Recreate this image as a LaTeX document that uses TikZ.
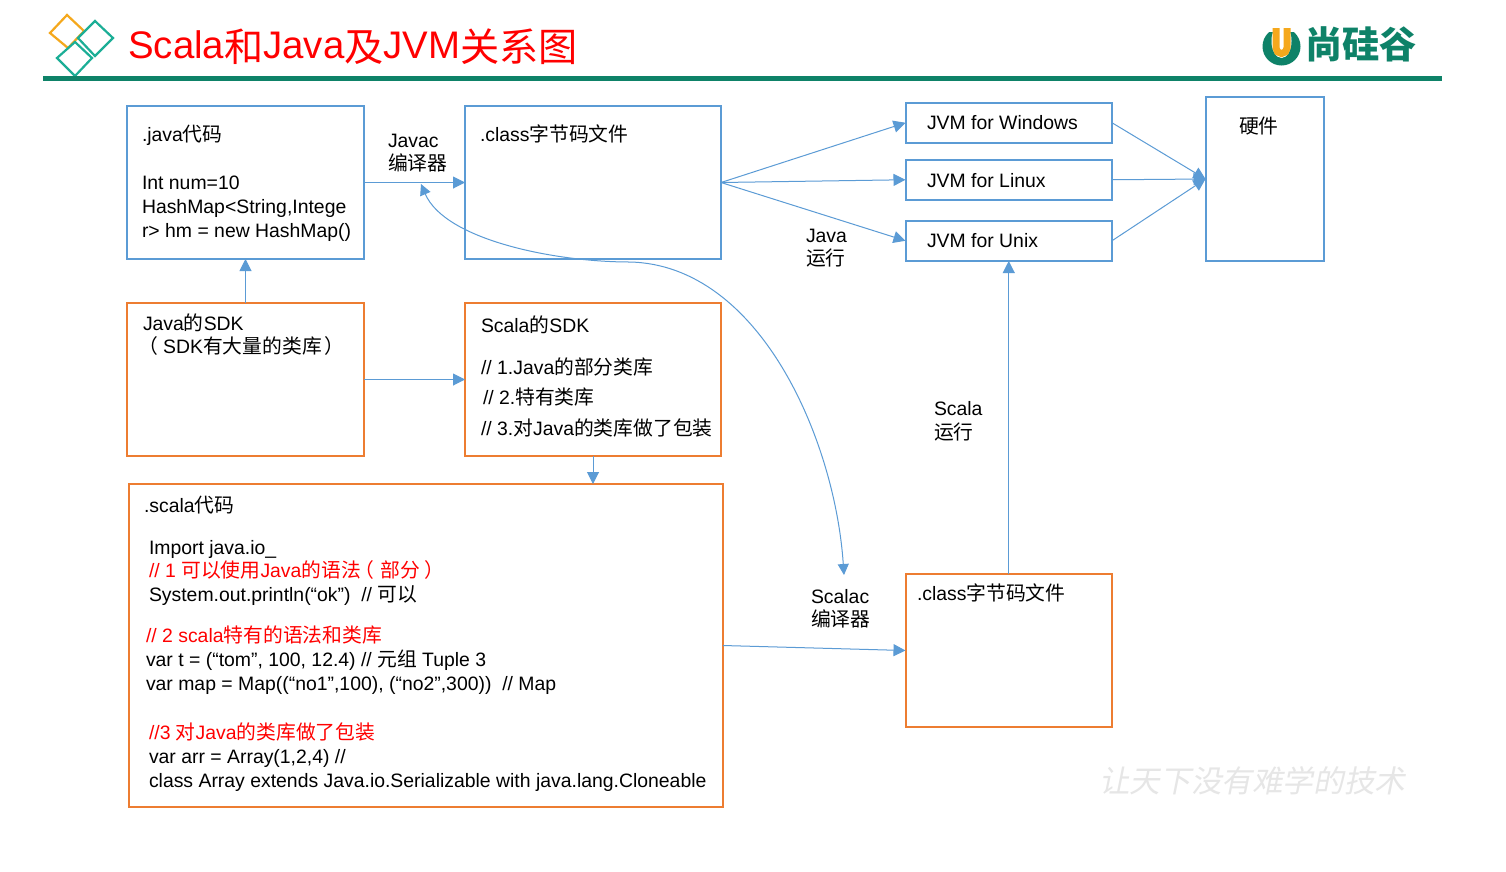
\documentclass[tikz,border=0pt]{standalone}
\usepackage{fontspec}
\setmainfont{Liberation Sans}
\newfontfamily\cjk[Scale=1.02]{Noto Sans CJK SC}
\newcommand\zh[1]{{\cjk#1}}
\newcommand\tzh[1]{\raisebox{-3pt}{\cjk#1}}
\usetikzlibrary{arrows.meta}
\definecolor{bluel}{HTML}{5B9BD5}
\definecolor{orangel}{HTML}{ED7D31}
\definecolor{rulegreen}{HTML}{0E8268}
\definecolor{teald}{HTML}{1BAE96}
\definecolor{amber}{HTML}{F5A81C}
\definecolor{wm}{HTML}{E6E6E6}
\tikzset{
  x=1pt,y=-1pt,
  bluebox/.style={draw=bluel,line width=2pt,fill=none,inner sep=0pt,outer sep=0pt},
  orangebox/.style={draw=orangel,line width=2pt,fill=none,inner sep=0pt,outer sep=0pt},
  txt/.style={anchor=base west,inner sep=0pt,outer sep=0pt,font=\fontsize{19.4pt}{23pt}\selectfont,text=black},
  redtxt/.style={txt,text=red},
  conn/.style={draw=bluel,line width=1pt,-{Triangle[length=12pt,width=12pt,fill=bluel]}},
  conn2/.style={draw=bluel,line width=1pt,{Triangle[length=11pt,width=11pt,fill=bluel]}-{Triangle[length=11pt,width=11pt,fill=bluel]}},
  deco/.style={line width=2.2pt,line join=miter}
}
\begin{document}
\begin{tikzpicture}
\useasboundingbox[fill=white] (0,0) rectangle (1506,871);
% header
\draw[deco,amber] (67,15) -- (84,31) -- (68,48) -- (50,33) -- cycle;
\draw[deco,teald] (95,21) -- (113,38) -- (95,56) -- (78,38) -- cycle;
\draw[deco,teald] (75,42) -- (92,58) -- (75,76) -- (57,58) -- cycle;
\fill[rulegreen] (43,76) rectangle (1442,81);
\node[anchor=base west,inner sep=0pt,text=red,font=\fontsize{38.4pt}{42pt}\selectfont] (title) at (128,58) {Scala\tzh{和}Java\tzh{及}JVM\tzh{关系图}};
% company mark
\fill[rulegreen] (1281.5,46.5) circle[radius=19];
\fill[white] (1281.5,41) ellipse[x radius=10,y radius=17];
\fill[white] (1260,25) rectangle (1304,32);
\draw[amber,line width=7pt] (1276,28) -- (1276,48) arc[start angle=180,end angle=360,x radius=5.5,y radius=-5.5] -- (1287,28);
\node[anchor=base west,inner sep=0pt,text=rulegreen,font=\fontsize{36.5pt}{40pt}\selectfont\cjk\bfseries] (brand) at (1305,58) {尚硅谷};
\node[anchor=base west,inner sep=0pt,text=wm,font=\fontsize{30pt}{34pt}\selectfont\cjk\addfontfeature{FakeSlant=0.2}] (motto) at (1099,792) {让天下没有难学的技术};
% boxes
\node[bluebox,minimum width=237pt,minimum height=153pt] (java) at (245.5,182.5) {};
\node[bluebox,minimum width=256pt,minimum height=153pt] (classa) at (593,182.5) {};
\node[bluebox,minimum width=206.5pt,minimum height=40.5pt] (win) at (1008.75,122.75) {};
\node[bluebox,minimum width=206.5pt,minimum height=40.5pt] (linux) at (1008.75,179.75) {};
\node[bluebox,minimum width=206.5pt,minimum height=40.5pt] (unix) at (1008.75,240.75) {};
\node[bluebox,minimum width=118.5pt,minimum height=164pt] (hw) at (1264.75,179) {};
\node[orangebox,minimum width=237pt,minimum height=153pt] (jsdk) at (245.5,379.5) {};
\node[orangebox,minimum width=256pt,minimum height=153pt] (ssdk) at (593,379.5) {};
\node[orangebox,minimum width=594pt,minimum height=323pt] (scode) at (426,645.5) {};
\node[orangebox,minimum width=206.5pt,minimum height=153pt] (classb) at (1008.75,650.5) {};
% connectors
\draw[conn] (java.east) -- (classa.west);
\draw[conn] (classa.east) -- (win.west);
\draw[conn] (classa.east) -- (linux.west);
\draw[conn] (classa.east) -- (unix.west);
\draw[conn] (win.east) -- (hw.west);
\draw[conn] (linux.east) -- (hw.west);
\draw[conn] (unix.east) -- (hw.west);
\draw[conn] (jsdk.north) -- (java.south);
\draw[conn] (jsdk.east) -- (ssdk.west);
\draw[conn] (ssdk.south) -- (scode.north-|ssdk.south);
\draw[conn] (scode.east) -- (classb.west);
\draw[conn] (classb.north) -- (unix.south);
\coordinate (cva) at (421,184);
\coordinate (cvb) at (630,262);
\coordinate (cvc) at (844,575);
\draw[conn2] (cva) .. controls (445,240) and (555,262) .. (cvb) .. controls (760,265) and (835,440) .. (cvc);
% java box text
\node[txt] (t1) at (142,141) {.java\zh{代码}};
\node[txt] (t2) at (142,189) {Int num=10};
\node[txt] (t3) at (142,213) {HashMap<String,Intege};
\node[txt] (t4) at (142,237) {r> hm = new HashMap()};
% labels
\node[txt] (l1) at (388,147) {Javac};
\node[txt] (l2) at (388,170) {\zh{编译器}};
\node[txt] (l3) at (806,242) {Java};
\node[txt] (l4) at (806,265) {\zh{运行}};
\node[txt] (l5) at (934,415) {Scala};
\node[txt] (l6) at (934,439) {\zh{运行}};
\node[txt] (l7) at (811,603) {Scalac};
\node[txt] (l8) at (811,626) {\zh{编译器}};
% class a / jvm / hw
\node[txt] (t5) at (480,141) {.class\zh{字节码文件}};
\node[txt] (t6) at (927,129) {JVM for Windows};
\node[txt] (t7) at (927,187) {JVM for Linux};
\node[txt] (t8) at (927,247) {JVM for Unix};
\node[txt] (t9) at (1239,133) {\zh{硬件}};
% sdk text
\node[txt] (t10) at (143,330) {Java\zh{的}SDK};
\node[txt] (t11) at (138,353) {\zh{（} SDK\zh{有大量的类库}\hspace{3pt}\zh{）}};
\node[txt] (t12) at (481,332) {Scala\zh{的}SDK};
\node[txt] (t13) at (481,374) {// 1.Java\zh{的部分类库}};
\node[txt] (t14) at (483,404) {// 2.\zh{特有类库}};
\node[txt] (t15) at (481,435) {// 3.\zh{对}Java\zh{的类库做了包装}};
% scala code
\node[txt] (c1) at (144,512) {.scala\zh{代码}};
\node[txt] (c2) at (149,554) {Import java.io\_};
\node[redtxt] (c3) at (149,577) {// 1 \zh{可以使用}Java\zh{的语法}\hspace{-6pt}\zh{（}\hspace{6pt}\zh{部分}\hspace{4pt}\zh{）}};
\node[txt] (c4) at (149,601) {System.out.println(“ok”)\ \ // \zh{可以}};
\node[redtxt] (c5) at (146,642) {// 2 scala\zh{特有的语法和类库}};
\node[txt] (c6) at (146,666) {var t = (“tom”, 100, 12.4) // \zh{元组} Tuple 3};
\node[txt] (c7) at (146,690) {var map = Map((“no1”,100), (“no2”,300))\ \ // Map};
\node[redtxt] (c8) at (149,739) {//3 \zh{对}Java\zh{的类库做了包装}};
\node[txt] (c9) at (149,763) {var arr = Array(1,2,4) //};
\node[txt] (c10) at (149,787) {class Array extends Java.io.Serializable with java.lang.Cloneable};
\node[txt] (t16) at (917,600) {.class\zh{字节码文件}};
\end{tikzpicture}
\end{document}
